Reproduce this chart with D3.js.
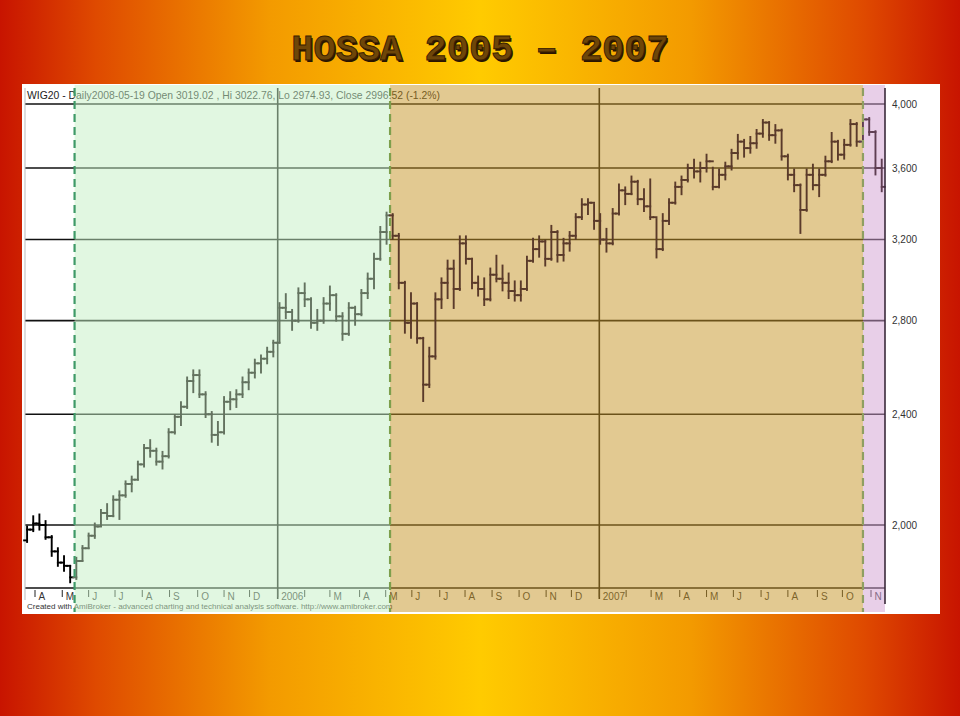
<!DOCTYPE html>
<html><head><meta charset="utf-8">
<script src="https://cdn.jsdelivr.net/npm/d3@7"></script>
<style>html,body{margin:0;padding:0;background:#fff}svg{display:block}</style>
</head><body>
<svg id="c" width="960" height="716"></svg>
<script>
// ---- data (weekly OHLC, WIG20) ----
const firstWeekMonday = "2005-03-21";
const firstOpen = 1950;
const high = [
1995,2029,2035,2013,1964,1925,1900,1870,
1895,1932,1972,2005,2050,2070,2097,2114,
2149,2166,2220,2282,2300,2268,2256,2342,
2397,2448,2550,2580,2580,2489,2409,2370,
2469,2489,2497,2550,2584,2626,2644,2678,
2709,2882,2925,2850,2953,2977,2905,2850,
2906,2962,2925,2835,2882,2865,2945,3026,
3127,3267,3345,3337,3230,2985,2929,2882,
2722,2678,2929,3002,3091,3091,3217,3217,
3101,3011,3002,3051,3116,3066,3026,2987,
2987,3111,3204,3217,3195,3273,3245,3204,
3240,3337,3420,3420,3392,3337,3257,3365,
3504,3487,3550,3525,3476,3533,3310,3337,
3420,3515,3550,3620,3650,3632,3680,3602,
3591,3632,3710,3802,3771,3789,3833,3896,
3883,3864,3835,3680,3591,3504,3591,3620,
3591,3668,3814,3765,3771,3896,3877,3929,
3909,3825,3650];
const low = [
1945,1980,1985,1955,1901,1870,1855,1820,
1830,1886,1925,1958,1997,2020,2029,2020,
2095,2114,2155,2202,2238,2209,2195,2235,
2325,2358,2425,2489,2469,2389,2294,2282,
2325,2420,2429,2469,2501,2550,2571,2610,
2640,2700,2812,2758,2795,2868,2767,2758,
2790,2850,2800,2713,2735,2781,2825,2906,
2953,3095,3178,3204,2953,2745,2722,2700,
2453,2510,2630,2859,2906,2859,2945,3076,
2953,2918,2873,2895,2987,2943,2906,2894,
2894,2945,3085,3111,3066,3095,3086,3091,
3142,3204,3310,3337,3257,3178,3137,3175,
3335,3392,3448,3392,3354,3310,3107,3145,
3283,3395,3448,3521,3544,3521,3579,3476,
3487,3533,3591,3656,3668,3692,3722,3790,
3771,3753,3650,3533,3465,3235,3355,3476,
3437,3555,3635,3650,3656,3735,3734,3755,
3802,3562,3465];
const close = [
1985,2005,2000,1960,1915,1880,1870,1835,
1885,1925,1965,1995,2040,2030,2085,2100,
2140,2155,2210,2270,2260,2220,2240,2330,
2390,2430,2535,2560,2480,2400,2320,2330,
2450,2460,2480,2530,2570,2610,2630,2660,
2700,2860,2840,2800,2930,2900,2790,2800,
2880,2920,2820,2740,2860,2830,2930,3000,
3100,3240,3330,3220,2980,2790,2880,2720,
2520,2640,2900,2980,3050,2950,3180,3100,
2980,2950,2900,3020,3000,2980,2940,2920,
2950,3090,3150,3190,3100,3240,3120,3180,
3220,3320,3390,3400,3300,3200,3180,3340,
3470,3450,3520,3420,3380,3320,3150,3300,
3400,3490,3530,3600,3580,3600,3640,3490,
3560,3610,3690,3760,3720,3750,3810,3880,
3800,3830,3670,3560,3500,3360,3560,3500,
3560,3640,3760,3680,3740,3870,3760,3900,
3820,3600,3490];
const yTickValues = [2000,2400,2800,3200,3600,4000];
const monthTicks = [
["2005-04-01","A"],["2005-05-02","M"],["2005-06-01","J"],["2005-07-01","J"],["2005-08-01","A"],
["2005-09-01","S"],["2005-10-03","O"],["2005-11-02","N"],["2005-12-01","D"],["2006-01-02","2006"],
["2006-02-01",""],["2006-03-01","M"],["2006-04-03","A"],["2006-05-02","M"],["2006-06-01","J"],
["2006-07-03","J"],["2006-08-01","A"],["2006-09-01","S"],["2006-10-02","O"],["2006-11-02","N"],
["2006-12-01","D"],["2007-01-02","2007"],["2007-02-01",""],["2007-03-01","M"],["2007-04-02","A"],
["2007-05-02","M"],["2007-06-01","J"],["2007-07-02","J"],["2007-08-01","A"],["2007-09-03","S"],
["2007-10-01","O"],["2007-11-02","N"]];
const yearLines = ["2006-01-02","2007-01-02"];
const phaseStarts = ["2005-05-16","2006-05-07","2007-10-24"];
const phaseFills = ["rgb(196,240,196)","rgb(198,148,36)","rgb(210,160,210)"];
const barColors = ["#000000","#63725f","#5a3a2a","#5e3e52"];
const dashColors = ["#3f9a68","#7d9f4c","#8f9f62"];
const titleText = "HOSSA 2005 \u2013 2007";
const headerText = "WIG20 - Daily2008-05-19 Open 3019.02 , Hi 3022.76, Lo 2974.93, Close 2996.52 (-1.2%)";
const footerText = "Created with AmiBroker - advanced charting and technical analysis software. http://www.amibroker.com";

// ---- drawing ----
const parse = d3.timeParse("%Y-%m-%d");
const svg = d3.select("#c");
const W = 960, H = 716;
const plot = {l:25, r:885, t:88, b:588};

const defs = svg.append("defs");
const g1 = defs.append("linearGradient").attr("id","bg").attr("x1","0").attr("x2","1").attr("y1","0").attr("y2","0");
[[0,"#c81400"],[0.1,"#df4a00"],[0.28,"#f39a00"],[0.5,"#ffcb00"],[0.72,"#f39a00"],[0.9,"#df4a00"],[1,"#c81400"]]
  .forEach(([o,c])=>g1.append("stop").attr("offset",o).attr("stop-color",c));
svg.append("rect").attr("width",W).attr("height",H).attr("fill","url(#bg)");

// title
const tt = svg.append("g").attr("font-family","'Liberation Mono','DejaVu Sans Mono',monospace")
  .attr("font-weight","bold").attr("font-size",37).attr("text-anchor","middle");
tt.append("text").attr("x",481.5).attr("y",61.5).attr("fill","#2a1400").text(titleText);
tt.append("text").attr("x",480).attr("y",60).attr("fill","#6e4608").attr("stroke","#3a2000").attr("stroke-width",0.9).text(titleText);

// panel
svg.append("rect").attr("x",22).attr("y",84).attr("width",918).attr("height",530).attr("fill","#ffffff");

const x = d3.scaleTime()
  .domain(["2005-04-01","2006-01-02","2006-05-02","2007-01-02","2007-11-02"].map(parse))
  .range([35,277.7,385.7,599.3,871]);
const y = d3.scaleLog().domain([1803,4107]).range([plot.b, plot.t]);

const base = svg.append("g");
// horizontal grid
base.selectAll("line.h").data(yTickValues).join("line")
  .attr("x1",plot.l).attr("x2",plot.r).attr("y1",d=>y(d)).attr("y2",d=>y(d))
  .attr("stroke","#111").attr("stroke-width",1.6);
// vertical year lines
base.selectAll("line.v").data(yearLines).join("line")
  .attr("x1",d=>x(parse(d))).attr("x2",d=>x(parse(d))).attr("y1",plot.t).attr("y2",599)
  .attr("stroke","#111").attr("stroke-width",1.6);
// axis line
base.append("line").attr("x1",plot.l).attr("x2",plot.r).attr("y1",plot.b).attr("y2",plot.b)
  .attr("stroke","#111").attr("stroke-width",1.6);
// left border
base.append("line").attr("x1",plot.l).attr("x2",plot.l).attr("y1",plot.t).attr("y2",600)
  .attr("stroke","#bbb").attr("stroke-width",1);

// month ticks & labels
const mt = base.append("g");
monthTicks.forEach(([d,lab])=>{
  const tx = x(parse(d));
  mt.append("line").attr("x1",tx).attr("x2",tx).attr("y1",plot.b+2).attr("y2",plot.b+9)
    .attr("stroke","#222").attr("stroke-width",1);
  if(lab) mt.append("text").attr("x",tx+3.5).attr("y",plot.b+12).attr("font-family","Arial, 'Liberation Sans', sans-serif")
    .attr("font-size",10).attr("fill","#333").text(lab);
});

// header and footer text
base.append("text").attr("x",27).attr("y",98.5).attr("font-family","Arial, 'Liberation Sans', sans-serif")
  .attr("font-size",10.4).attr("fill","#222").text(headerText);
base.append("text").attr("x",27).attr("y",609).attr("font-family","Arial, 'Liberation Sans', sans-serif")
  .attr("font-size",8).attr("fill","#333").text(footerText);

// phase overlays
const starts = phaseStarts.map(d=>x(parse(d)));
const ends = starts.slice(1).concat([plot.r]);
svg.append("g").selectAll("rect").data(starts).join("rect")
  .attr("x",d=>d).attr("width",(d,i)=>ends[i]-d).attr("y",85).attr("height",527)
  .attr("fill",(d,i)=>phaseFills[i]).attr("fill-opacity",0.5);

// bars (coloured by phase)
const monday = parse(firstWeekMonday);
const bars = high.map((h,i)=>({
  date: d3.timeDay.offset(monday, 7*i+2),
  o: i===0 ? firstOpen : close[i-1], h, l: low[i], c: close[i]
}));
const phaseOf = bx => { let k = 0; starts.forEach(s=>{ if(bx>=s) k++; }); return k; };
const bg = svg.append("g").attr("stroke-width",1.9).attr("fill","none").attr("stroke-linecap","square");
bars.forEach(b=>{
  const bx = x(b.date);
  const col = barColors[phaseOf(bx)];
  bg.append("line").attr("x1",bx).attr("x2",bx).attr("y1",y(b.h)).attr("y2",y(b.l)).attr("stroke",col);
  bg.append("line").attr("x1",bx-3).attr("x2",bx).attr("y1",y(b.o)).attr("y2",y(b.o)).attr("stroke",col);
  bg.append("line").attr("x1",bx).attr("x2",bx+3).attr("y1",y(b.c)).attr("y2",y(b.c)).attr("stroke",col);
});

// dashed separators
svg.append("g").selectAll("line").data(starts).join("line")
  .attr("x1",d=>d).attr("x2",d=>d).attr("y1",88).attr("y2",612)
  .attr("stroke",(d,i)=>dashColors[i]).attr("stroke-width",2.2).attr("stroke-dasharray","8,5");

// right border
svg.append("line").attr("x1",plot.r).attr("x2",plot.r).attr("y1",plot.t).attr("y2",604)
  .attr("stroke","#3a2a3a").attr("stroke-width",1.6);

// right axis labels
const fmt = d3.format(",");
svg.append("g").selectAll("text").data(yTickValues).join("text")
  .attr("x",892).attr("y",d=>y(d)+3.5).attr("font-family","Arial, 'Liberation Sans', sans-serif")
  .attr("font-size",10).attr("fill","#333").text(d=>fmt(d));
</script>
</body></html>
